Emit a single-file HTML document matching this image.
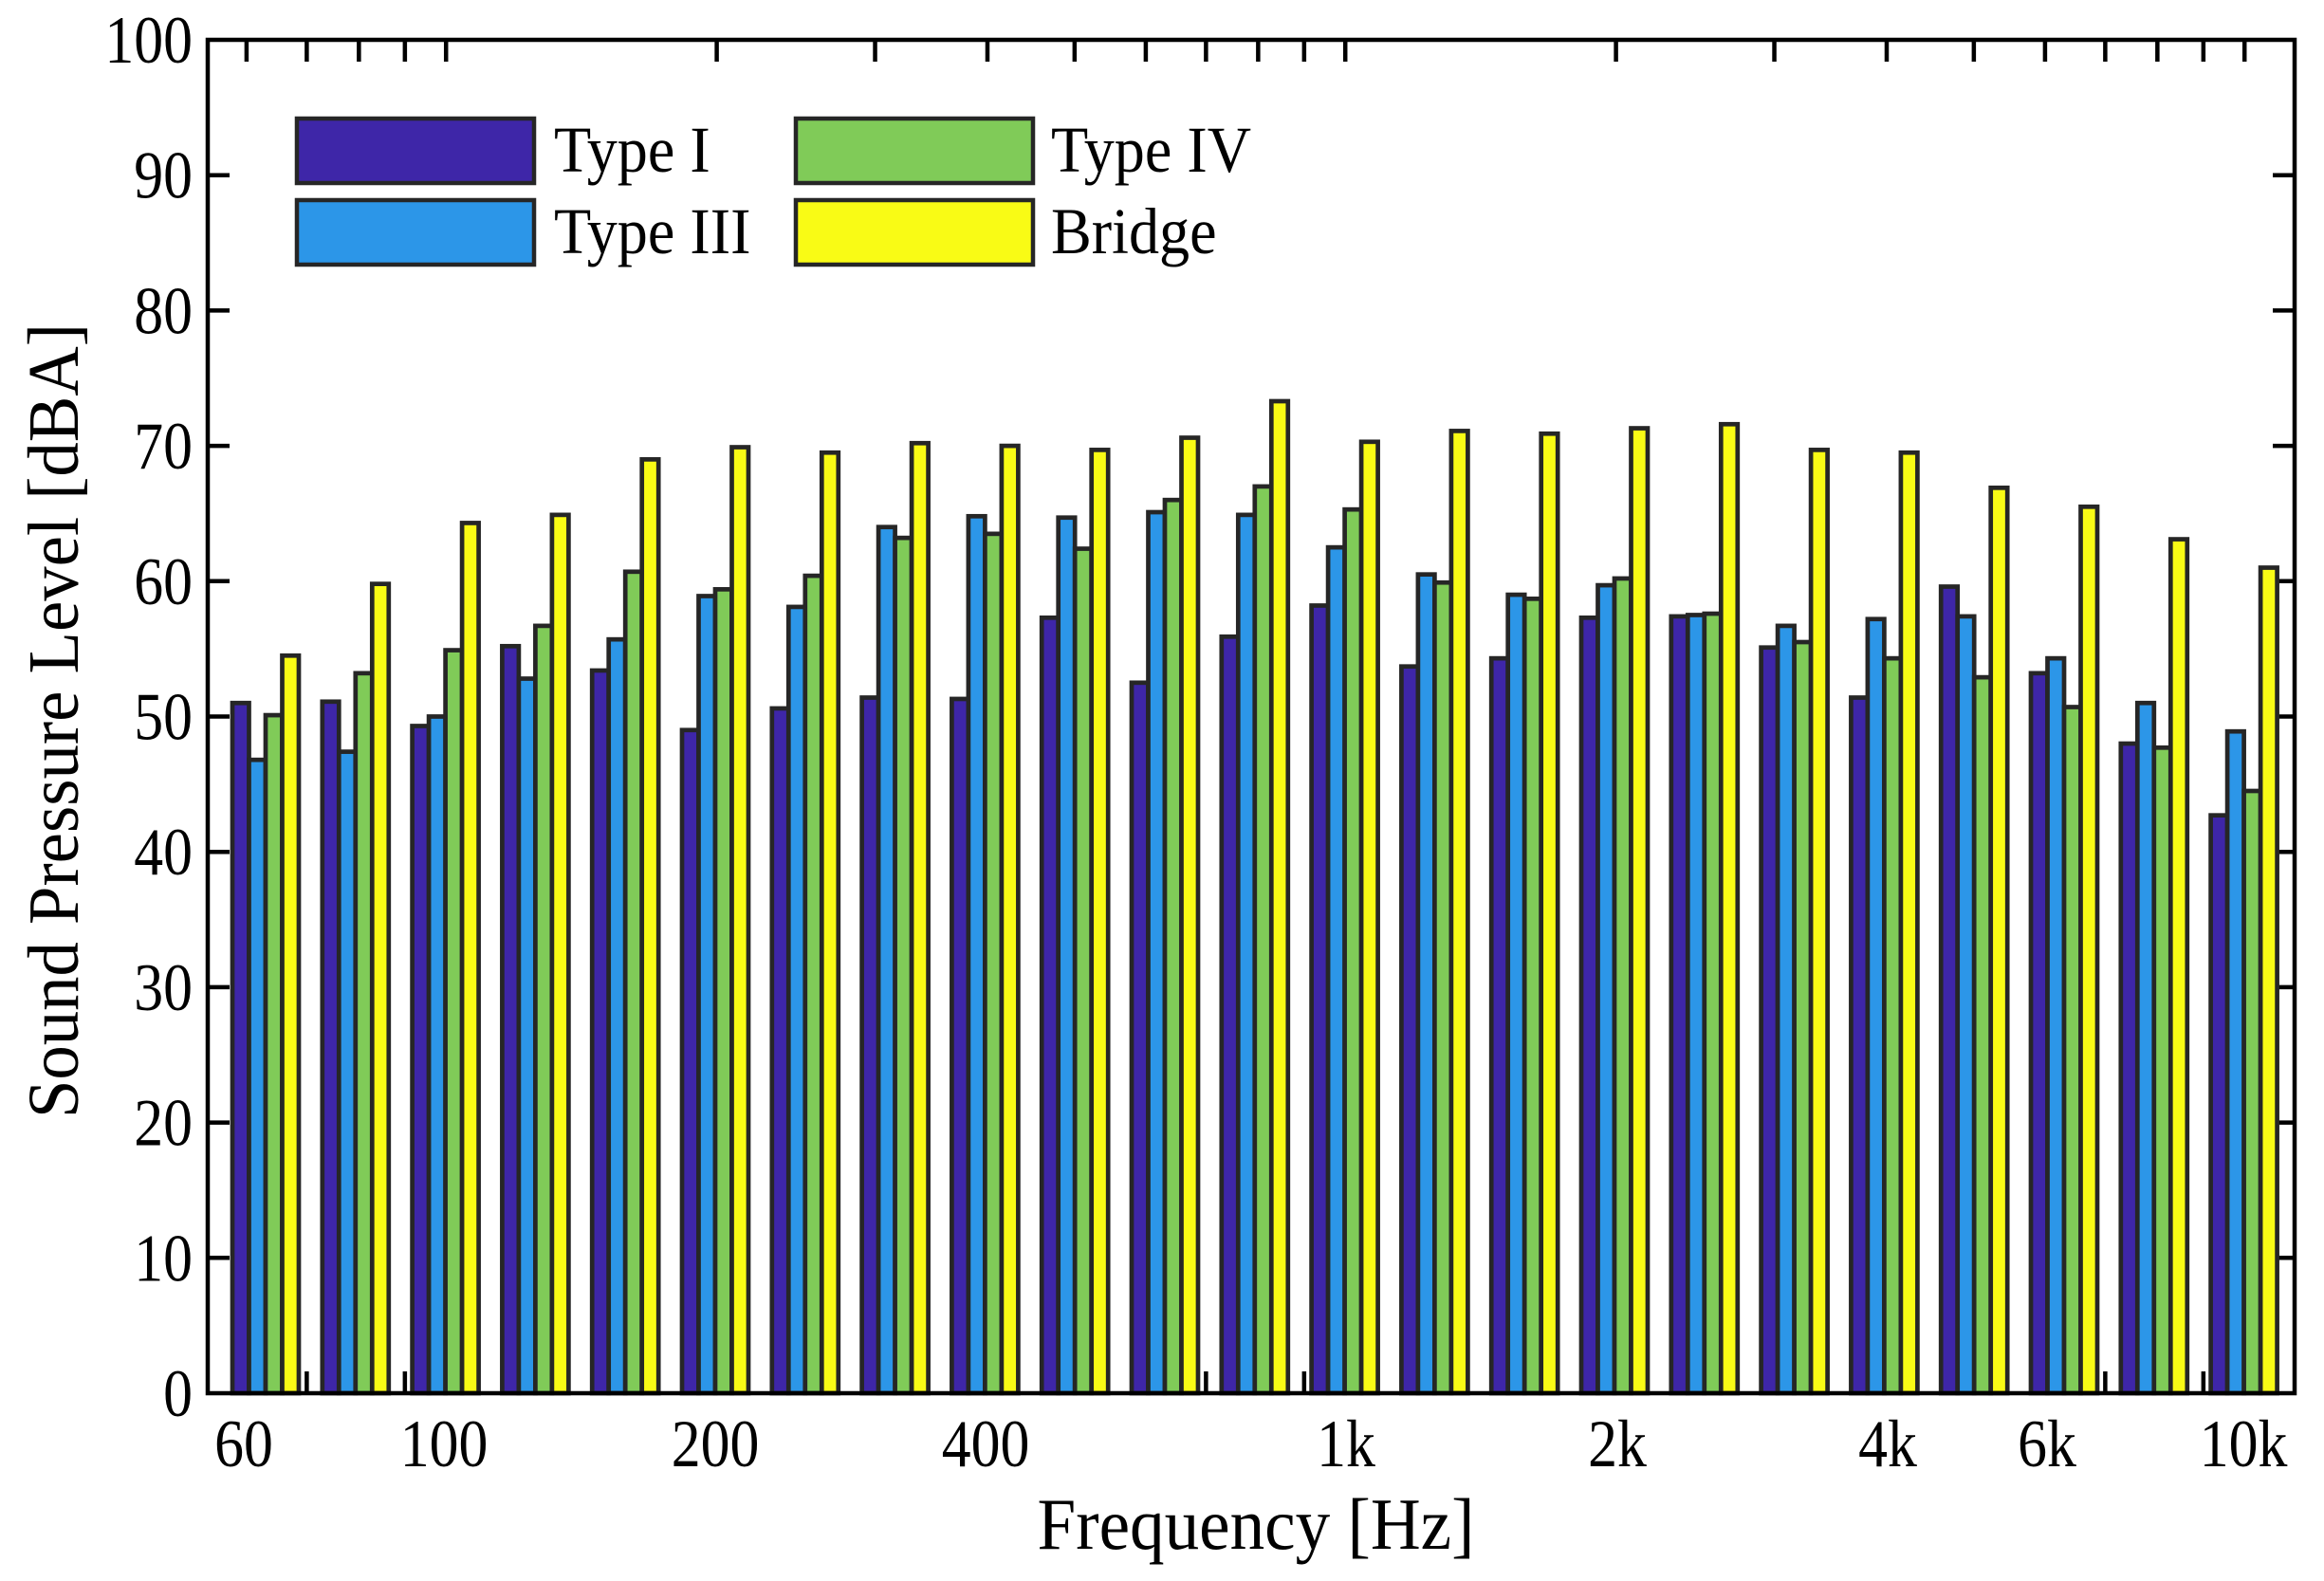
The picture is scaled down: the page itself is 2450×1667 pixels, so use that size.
<!DOCTYPE html>
<html><head><meta charset="utf-8"><style>html,body{margin:0;padding:0;background:#fff}svg{display:block}</style></head>
<body>
<svg xmlns="http://www.w3.org/2000/svg" width="2450" height="1667" viewBox="0 0 2450 1667" font-family="'Liberation Serif', serif">
<rect width="2450" height="1667" fill="#fff"/>
<g id="ticks" stroke="#000" stroke-width="4.5"></g>
<g id="bars" stroke="#262626" stroke-width="4.7"></g>
<rect x="219" y="42" width="2200" height="1427" fill="none" stroke="#000" stroke-width="4.5"/>
<g id="txt"></g>
<text transform="translate(82,760) rotate(-90)" font-size="76" text-anchor="middle" textLength="838" lengthAdjust="spacingAndGlyphs">Sound Pressure Level [dBA]</text>
<g stroke="#262626" stroke-width="4.5">
<rect x="313" y="125" width="250" height="68" fill="#3E26A8"/>
<rect x="313" y="211" width="250" height="68" fill="#2C96E8"/>
<rect x="839" y="125" width="250" height="68" fill="#80CB58"/>
<rect x="839" y="211" width="250" height="68" fill="#F9FB15"/>
</g>
<script>
(function(){
var NS="http://www.w3.org/2000/svg";
function el(p,t,a){var e=document.createElementNS(NS,t);for(var k in a)e.setAttribute(k,a[k]);p.appendChild(e);return e;}
var tx=document.getElementById('txt');
function T(s,x,y,size,sx,anchor){var g=el(tx,'g',{transform:'translate('+x+','+y+') scale('+sx+',1)'});
 var t=el(g,'text',{x:0,y:0,'font-size':size,'text-anchor':anchor});t.textContent=s;}
var Y0=1469,S=14.27;
var tk=document.getElementById('ticks');
for(var v=0;v<=100;v+=10){var y=Y0-v*S;
 T(String(v),203,y+24,71,0.87,'end');
 if(v>0&&v<100){el(tk,'line',{x1:219,y1:y,x2:242,y2:y});el(tk,'line',{x1:2419,y1:y,x2:2396,y2:y});}}
function fx(f){return 280+948*Math.log10(f/63);}
var fs=[60,70,80,90,100,200,300,400,500,600,700,800,900,1000,2000,3000,4000,5000,6000,7000,8000,9000,10000];
fs.forEach(function(f){var x=fx(f);el(tk,'line',{x1:x,y1:Y0,x2:x,y2:Y0-23});el(tk,'line',{x1:x,y1:42,x2:x,y2:65});});
[['60',257],['100',468],['200',754],['400',1039],['1k',1419],['2k',1705],['4k',1990],['6k',2158],['10k',2365]].forEach(function(a){T(a[0],a[1],1546,71,0.87,'middle');});
T('Frequency [Hz]',1324,1633,77,0.95,'middle');
T('Type I',584,181,69,0.93,'start');
T('Type III',584,267,69,0.93,'start');
T('Type IV',1108,181,69,0.93,'start');
T('Bridge',1108,267,69,0.93,'start');
var d=[[51,46.8,50.1,54.5],[51.1,47.4,53.2,59.8],[49.3,50,54.9,64.3],[55.2,52.8,56.7,64.9],[53.4,55.7,60.7,69],[49,58.9,59.4,69.9],[50.6,58.1,60.4,69.5],[51.4,64,63.2,70.2],[51.3,64.8,63.5,70],[57.3,64.7,62.4,69.7],[52.5,65.1,66,70.6],[55.9,64.9,67,73.3],[58.2,62.5,65.3,70.3],[53.7,60.5,59.9,71.1],[54.3,59,58.7,70.9],[57.3,59.7,60.2,71.3],[57.4,57.5,57.6,71.6],[55.1,56.7,55.5,69.7],[51.4,57.2,54.3,69.5],[59.6,57.4,52.9,66.9],[53.2,54.3,50.7,65.5],[48,51,47.7,63.1],[42.7,48.9,44.5,61]];
var cols=['#3E26A8','#2C96E8','#80CB58','#F9FB15'];
var bg=document.getElementById('bars');
d.forEach(function(g,k){var c=280+94.8*k;
 g.forEach(function(v,i){var cx=c+(i-1.5)*17.5;var y=Y0-v*S;
  el(bg,'rect',{x:cx-8.75,y:y,width:17.5,height:Y0-y,fill:cols[i]});});});
})();
</script>
</svg>
</body></html>
